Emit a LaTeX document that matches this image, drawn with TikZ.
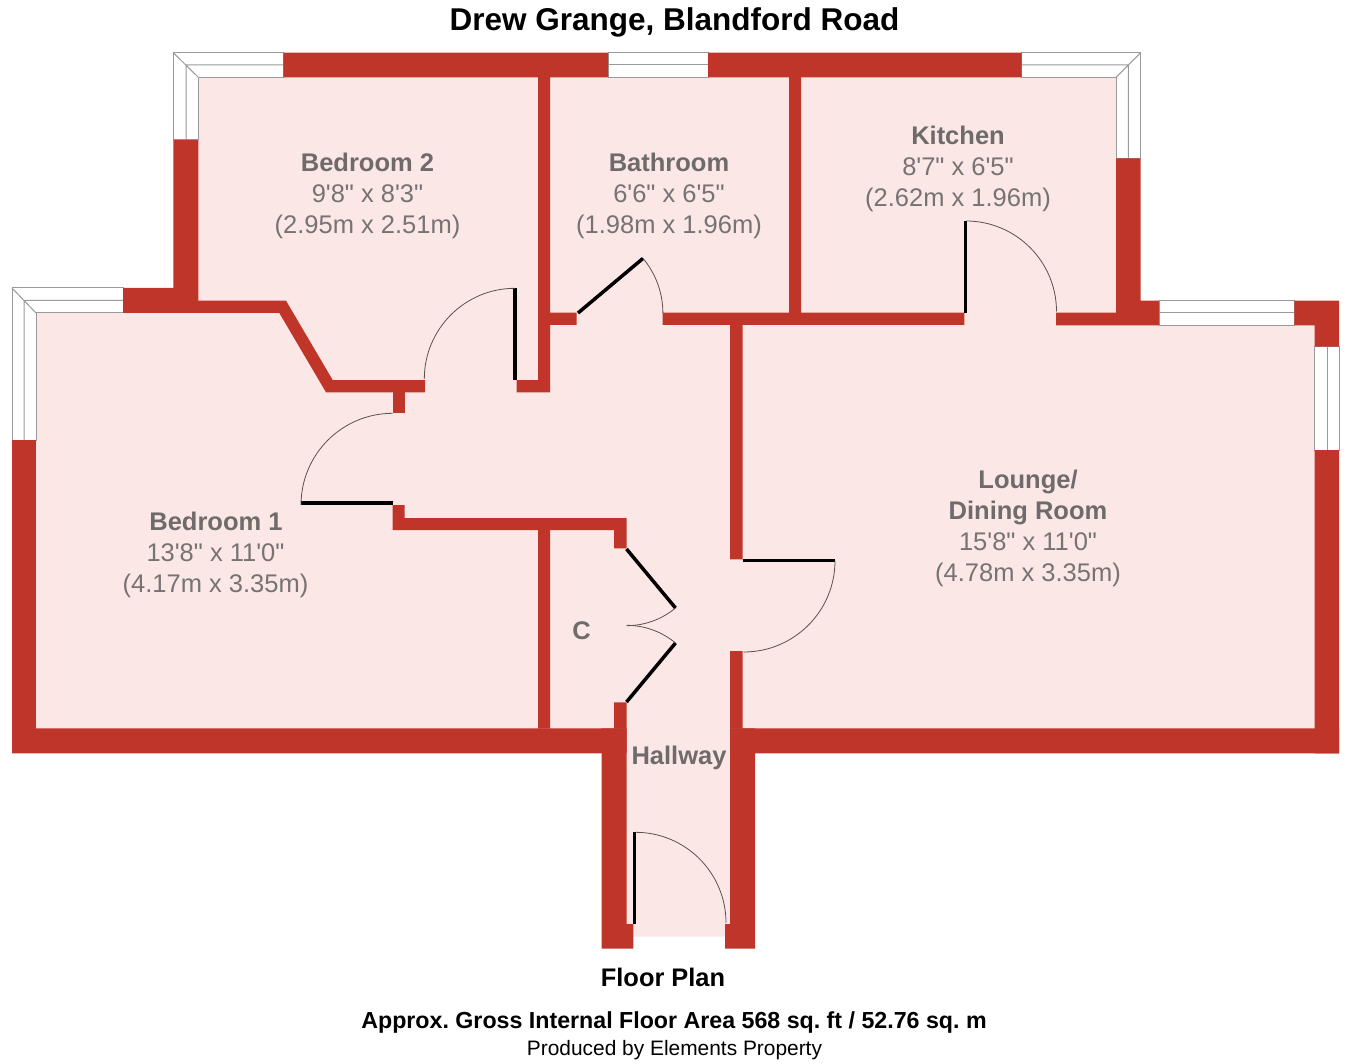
\documentclass[tikz,border=0pt]{standalone}
\usepackage{fontspec}
\newfontfamily\plan{Liberation Sans}
\frenchspacing
\definecolor{wallred}{HTML}{BF352A}
\definecolor{floorpink}{HTML}{FBE7E6}
\definecolor{namegrey}{HTML}{6F6B6B}
\definecolor{dimgrey}{HTML}{777373}
\definecolor{paneline}{HTML}{9A9A9A}
\definecolor{swing}{HTML}{5A5050}
\tikzset{
  wall/.style={fill=wallred},
  floorarea/.style={fill=floorpink},
  pane/.style={fill=white,draw=paneline,line width=1pt},
  paneline/.style={draw=paneline,line width=1pt},
  leaf/.style={draw=black,line width=3.5pt},
  swingarc/.style={draw=swing,line width=0.8pt},
  txt/.style={inner sep=0pt,anchor=base,font=\plan},
  roomname/.style={txt,text=namegrey,font=\plan\bfseries\fontsize{25.5}{30}\selectfont},
  roomdim/.style={txt,text=dimgrey,font=\plan\fontsize{25.5}{30}\selectfont}
}
\begin{document}
\begin{tikzpicture}[x=1pt,y=-1pt]
\useasboundingbox (0,0) rectangle (1346,1064);
% floor
\fill[floorarea] (186,65) -- (1128,65) -- (1128,313) -- (1327,313) -- (1327,740) -- (740,740) -- (740,936.7) -- (614,936.7) -- (614,740) -- (24,740) -- (24,300) -- (186,300) -- cycle;
% corner windows
\path[pane] (173.3,140) -- (173.3,52.7) -- (283.3,52.7) -- (283.3,77.3) -- (198.3,77.3) -- (198.3,140) -- cycle;
\draw[paneline] (186,140) -- (186,65) -- (283.3,65) (173.3,52.7) -- (198.3,77.3);
\path[pane] (12,440) -- (12,288) -- (123,288) -- (123,313) -- (36,313) -- (36,440) -- cycle;
\draw[paneline] (24,440) -- (24,300.4) -- (123,300.4) (12,288) -- (36,313);
\path[pane] (1021.7,52.7) -- (1140.7,52.7) -- (1140.7,158.3) -- (1116,158.3) -- (1116,77.3) -- (1021.7,77.3) -- cycle;
\draw[paneline] (1021.7,65) -- (1128.3,65) -- (1128.3,158.3) (1140.7,52.7) -- (1116,77.3);
% straight windows
\path[pane] (608,52.7) rectangle (708,77.3);
\draw[paneline] (608,65) -- (708,65);
\path[pane] (1159,300.7) rectangle (1294.3,325.3);
\draw[paneline] (1159,313) -- (1294.3,313);
\path[pane] (1314.7,346.7) rectangle (1339,450);
\draw[paneline] (1327,346.7) -- (1327,450);
% walls
\fill[wall] (283.3,52.7) rectangle (608,77.3) (708,52.7) rectangle (1021.7,77.3);
\fill[wall] (173.3,140) rectangle (198.3,313) (123,288) rectangle (174,313);
\fill[wall] (198,300.7) -- (286,300.7) -- (332.7,380) -- (425,380) -- (425,392.3) -- (326,392.3) -- (279.3,313) -- (198,313) -- cycle;
\fill[wall] (392.7,392) rectangle (404.7,413.3);
\fill[wall] (12,440) rectangle (36,753.3);
\fill[wall] (12,728.3) rectangle (626.7,753.3) (730,728.3) rectangle (1339,753.3);
\fill[wall] (601.7,728.3) rectangle (626.7,924.5) (601.7,924) rectangle (633.3,948.7);
\fill[wall] (730,728.3) rectangle (755,924.5) (725,924) rectangle (755,948.7);
\fill[wall] (392.7,505) rectangle (404.7,530) (392.7,518) rectangle (626.7,530) (614,518) rectangle (626.7,548.3);
\fill[wall] (538,530) rectangle (550,728.5) (614,702.3) rectangle (626.7,728.5);
\fill[wall] (538,77) rectangle (550,392.3) (516.7,380) rectangle (550,392.3) (550,312.7) rectangle (576.7,325);
\fill[wall] (789,77) rectangle (801,313) (662.7,312.7) rectangle (964.3,325);
\fill[wall] (730,325) rectangle (742.7,559.3) (730,651) rectangle (742.7,728.5);
\fill[wall] (1056,312.7) rectangle (1159,325.3) (1116,158.3) rectangle (1140.7,325.3) (1140,300.7) rectangle (1159,325.3);
\fill[wall] (1294.3,300.7) rectangle (1339,325.3) (1314.7,325) rectangle (1339,346.7) (1314.7,450) rectangle (1339,753.3);
% door leaves
\draw[leaf] (301,503) -- (392.7,503);
\draw[leaf] (515,288.3) -- (515,380);
\draw[leaf] (578,313) -- (643,258.4);
\draw[leaf] (965.7,221) -- (965.7,313);
\draw[leaf] (742.7,560.7) -- (835,560.7);
\draw[leaf] (626.5,549) -- (675.5,608);
\draw[leaf] (626.5,702) -- (675.5,643);
\draw[leaf] (634.7,832.3) -- (634.7,924);
% door swings
\draw[swingarc] (392.7,413.3) arc[start angle=90,end angle=180,radius=91.7pt];
\draw[swingarc] (515,288.3) arc[start angle=90,end angle=180,radius=90.7pt];
\draw[swingarc] (643,258.4) arc[start angle=40,end angle=0,radius=85pt];
\draw[swingarc] (966,221) arc[start angle=90,end angle=0,radius=90.5pt];
\draw[swingarc] (835,560.7) arc[start angle=0,end angle=-90,radius=91.3pt];
\draw[swingarc] (675.5,608) arc[start angle=-50.3,end angle=-90,radius=76.7pt];
\draw[swingarc] (675.5,643) arc[start angle=50.3,end angle=90,radius=76.7pt];
\draw[swingarc] (635.5,832.3) arc[start angle=90,end angle=0,radius=90.5pt];
% text
\node[txt,font=\plan\bfseries\fontsize{31.5}{36}\selectfont] (title) at (674.5,30.5) {Drew Grange, Blandford Road};
\node[roomname] (bed2) at (367.5,171.7) {Bedroom 2};
\node[roomdim] (bed2a) at (367.5,202.7) {9'8" x 8'3"};
\node[roomdim] (bed2b) at (367.5,233.7) {(2.95m x 2.51m)};
\node[roomname] (bath) at (669,171.7) {Bathroom};
\node[roomdim] (batha) at (669,202.7) {6'6" x 6'5"};
\node[roomdim] (bathb) at (669,233.7) {(1.98m x 1.96m)};
\node[roomname] (kit) at (958,144.7) {Kitchen};
\node[roomdim] (kita) at (958,175.7) {8'7" x 6'5"};
\node[roomdim] (kitb) at (958,206.7) {(2.62m x 1.96m)};
\node[roomname] (lounge1) at (1028,488) {Lounge/};
\node[roomname] (lounge2) at (1028,519.2) {Dining Room};
\node[roomdim] (lounge3) at (1028,550.2) {15'8" x 11'0"};
\node[roomdim] (lounge4) at (1028,581.2) {(4.78m x 3.35m)};
\node[roomname] (bed1) at (216,530) {Bedroom 1};
\node[roomdim] (bed1a) at (215.5,561) {13'8" x 11'0"};
\node[roomdim] (bed1b) at (215.5,592) {(4.17m x 3.35m)};
\node[roomname] (cup) at (581.5,639) {C};
\node[roomname] (hall) at (679,764) {Hallway};
\node[txt,font=\plan\bfseries\fontsize{25.4}{30}\selectfont] (fp) at (663,986) {Floor Plan};
\node[txt,font=\plan\bfseries\fontsize{23.2}{28}\selectfont] (area) at (674,1028) {Approx. Gross Internal Floor Area 568 sq. ft / 52.76 sq. m};
\node[txt,font=\plan\fontsize{20.9}{25}\selectfont] (prod) at (674.5,1055) {Produced by Elements Property};
\end{tikzpicture}
\end{document}
